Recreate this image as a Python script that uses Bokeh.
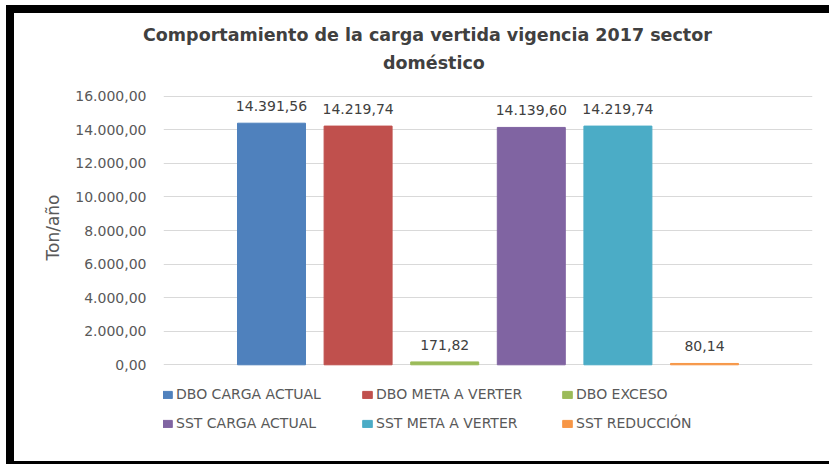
from bokeh.plotting import figure
from bokeh.models import (ColumnDataSource, Range1d, Legend, LegendItem, LabelSet, Title,
                          CustomJSTickFormatter, FixedTicker)
from bokeh.core.properties import value
from bokeh.embed import file_html
from bokeh.resources import INLINE

title_line1 = "Comportamiento de la carga vertida vigencia 2017 sector"
title_line2 = "doméstico"
y_label = "Ton/año"
series = ["DBO CARGA ACTUAL", "DBO META A VERTER", "DBO EXCESO",
          "SST CARGA ACTUAL", "SST META A VERTER", "SST REDUCCIÓN"]
values = [14391.56, 14219.74, 171.82, 14139.60, 14219.74, 80.14]
colors = ["#4F81BD", "#C0504D", "#9BBB59", "#8064A2", "#4BACC6", "#F79646"]
y_ticks = [0, 2000, 4000, 6000, 8000, 10000, 12000, 14000, 16000]


def fmt(v):
    s = f"{v:,.2f}"
    return s.replace(",", "X").replace(".", ",").replace("X", ".")


FONT = "DejaVu Sans"

src = ColumnDataSource(dict(
    x=list(range(len(series))),
    top=values,
    color=colors,
    name=series,
    label=[fmt(v) for v in values],
))

# pixel geometry of the plotting frame (canvas px)
W, H = 815, 448
FRAME_TOP, GRID_TOP, GRID_ZERO = 62, 82.7, 351.3
LEGEND_TOP, LEGEND_H = 371, 49
span = y_ticks[-1] - y_ticks[0]
per_px = span / (GRID_ZERO - GRID_TOP)
y_start = y_ticks[0] - (H - GRID_ZERO) * per_px
y_end = y_ticks[-1] + (GRID_TOP - FRAME_TOP) * per_px

p = figure(width=W, height=H, output_backend="svg", toolbar_location=None,
           x_range=Range1d(-1.247, len(series) - 1 + 1.247),
           y_range=Range1d(y_start, y_end),
           min_border_left=149, min_border_right=W - 798, min_border_top=FRAME_TOP,
           min_border_bottom=0)
p.margin = (13, 0, 0, 14)
# black frame bands (top, left, bottom) drawn as box shadows
p.styles = {"box-shadow": ("0 -8px 0 0 black, -8px 0 0 0 black, -8px -8px 0 0 black, "
                           "0 3px 0 0 black, -8px 3px 0 0 black")}
p.outline_line_color = None
p.background_fill_color = "white"
p.border_fill_color = "white"

r = p.vbar(x="x", top="top", bottom=0, width=0.785, color="color", source=src)

p.xaxis.visible = False
p.xgrid.visible = False
p.ygrid.grid_line_color = "#d9d9d9"
p.ygrid.grid_line_width = 1

yax = p.yaxis[0]
yax.ticker = FixedTicker(ticks=y_ticks)
yax.formatter = CustomJSTickFormatter(code="""
const s = tick.toFixed(2);
const parts = s.split('.');
return parts[0].replace(/\\B(?=(\\d{3})+(?!\\d))/g, '.') + ',' + parts[1];
""")
yax.axis_line_color = None
yax.major_tick_line_color = None
yax.minor_tick_line_color = None
yax.major_tick_in = 0
yax.major_tick_out = 0
yax.major_label_standoff = 17
yax.major_label_text_font = FONT
yax.major_label_text_font_size = "14px"
yax.major_label_text_color = "#595959"

p.add_layout(Title(text=y_label, align="left", offset=200 - (447 - H),
                   vertical_align="bottom", standoff=20, text_font=FONT,
                   text_font_size="17px", text_font_style="normal",
                   text_color="#595959"), "left")

labels = LabelSet(x="x", y="top", text="label", source=src, y_offset=12,
                  text_align="center", text_baseline="bottom",
                  text_font=value(FONT), text_font_size="14px", text_color="#404040")
p.add_layout(labels)

p.title.text = title_line1
p.title.align = "left"
p.title.offset = -20.5
p.title.standoff = 6
p.title.text_font = FONT
p.title.text_font_size = "17.5px"
p.title.text_font_style = "bold"
p.title.text_color = "#404040"
p.add_layout(Title(text=title_line2, align="left", offset=219.5, standoff=6,
                   text_font=FONT, text_font_size="17.5px", text_font_style="bold",
                   text_color="#404040"), "above")

items = [LegendItem(label=s, renderers=[r], index=i) for i, s in enumerate(series)]
legend = Legend(items=items, orientation="horizontal", ncols=3,
                location=(-2, H - LEGEND_TOP - LEGEND_H), margin=0, padding=0, spacing=9,
                glyph_width=12, glyph_height=9, label_standoff=3,
                label_width=176, label_height=20,
                label_text_font=FONT, label_text_font_size="14px",
                label_text_color="#595959",
                border_line_color=None, background_fill_alpha=0)
p.add_layout(legend)

open("out.html", "w").write(file_html(p, INLINE))
